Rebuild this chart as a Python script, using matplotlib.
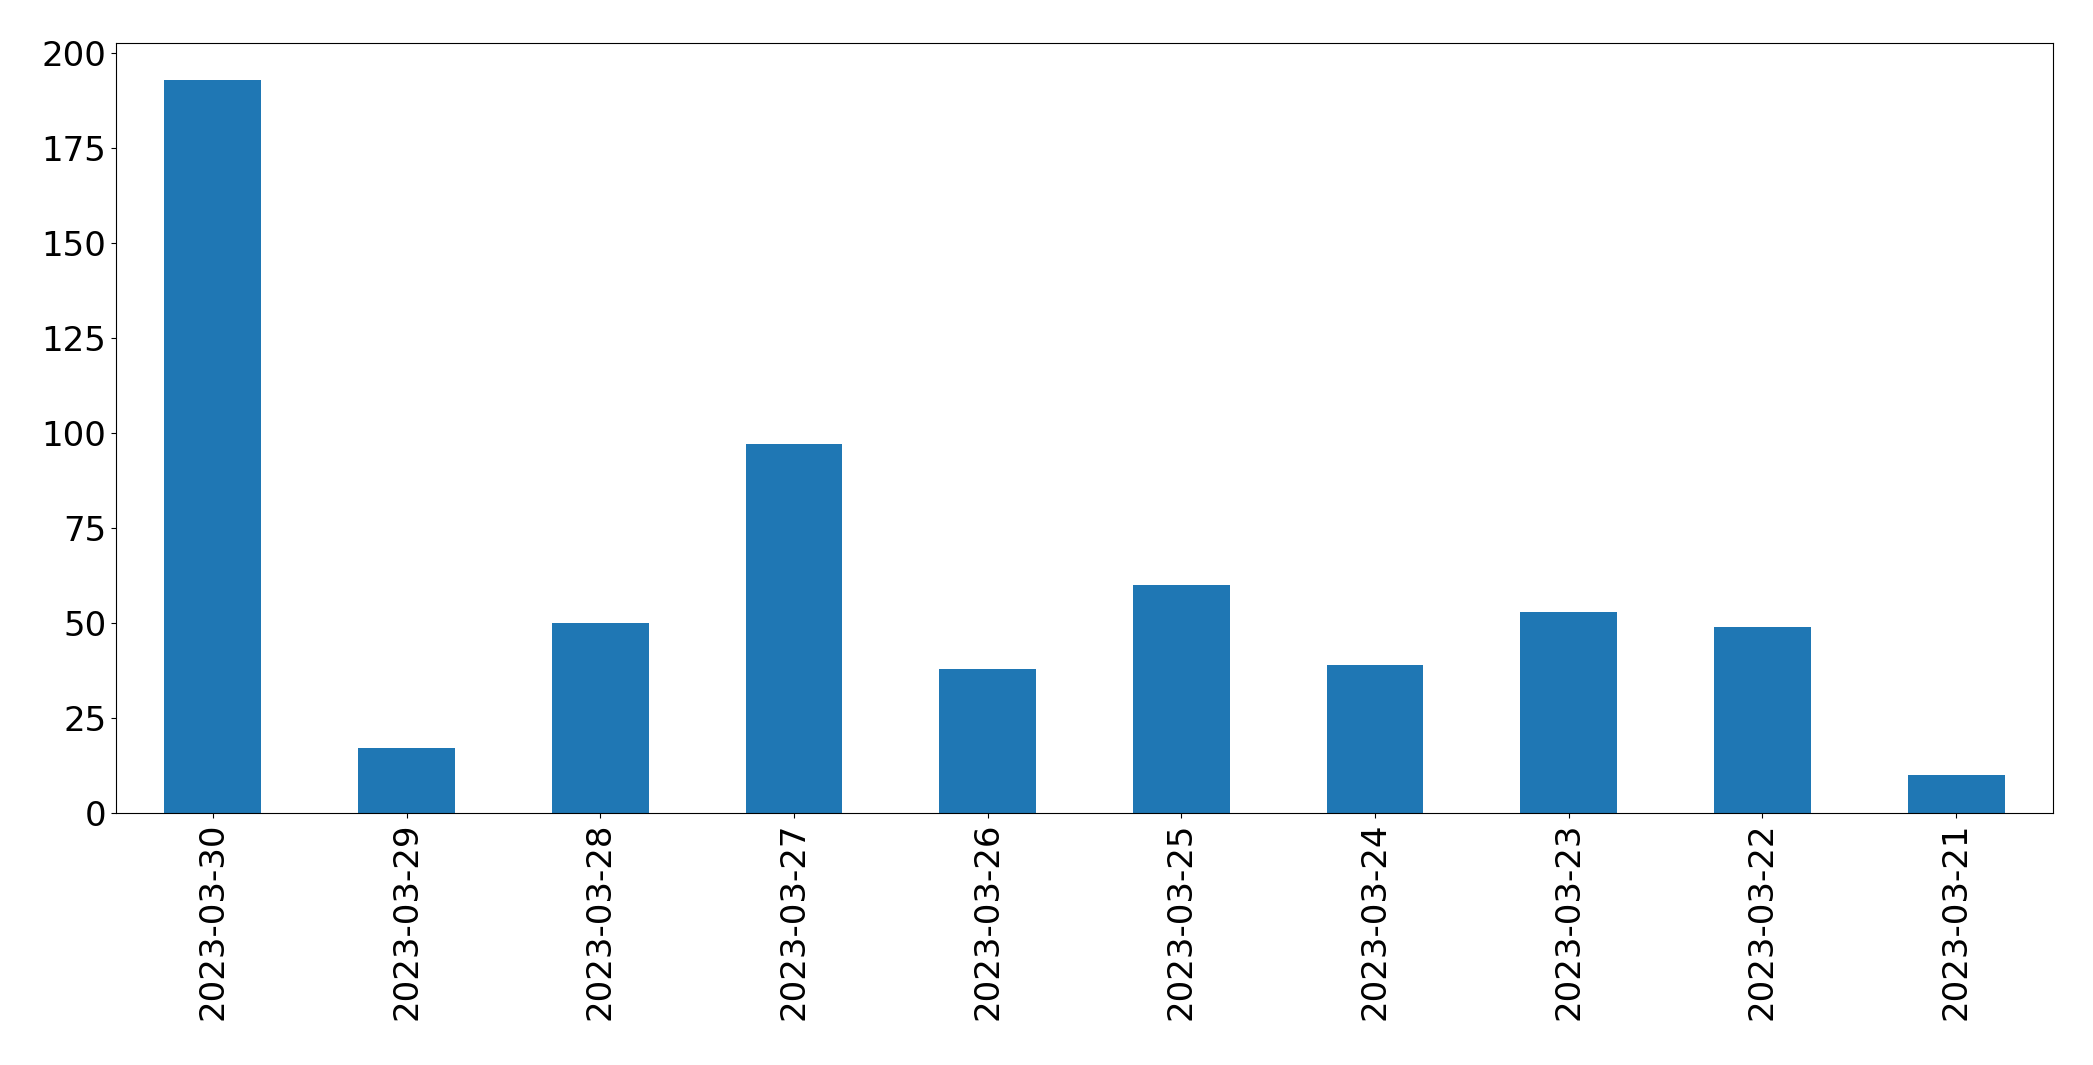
import matplotlib
matplotlib.use("Agg")
import matplotlib.pyplot as plt
import pandas as pd

# daily counts, newest first
dates = ["2023-03-30", "2023-03-29", "2023-03-28", "2023-03-27", "2023-03-26",
         "2023-03-25", "2023-03-24", "2023-03-23", "2023-03-22", "2023-03-21"]
counts = [193, 17, 50, 97, 38, 60, 39, 53, 49, 10]

s = pd.Series(counts, index=dates)

fig = plt.figure(figsize=(20.93, 10.65), dpi=100)
ax = fig.add_axes([116 / 2093, 1 - 813 / 1065, (2053 - 116) / 2093, (813 - 43) / 1065])
s.plot(kind="bar", ax=ax, color="#1f77b4")
ax.tick_params(axis="both", labelsize=24.5)

fig.savefig("out.png", dpi=100)
